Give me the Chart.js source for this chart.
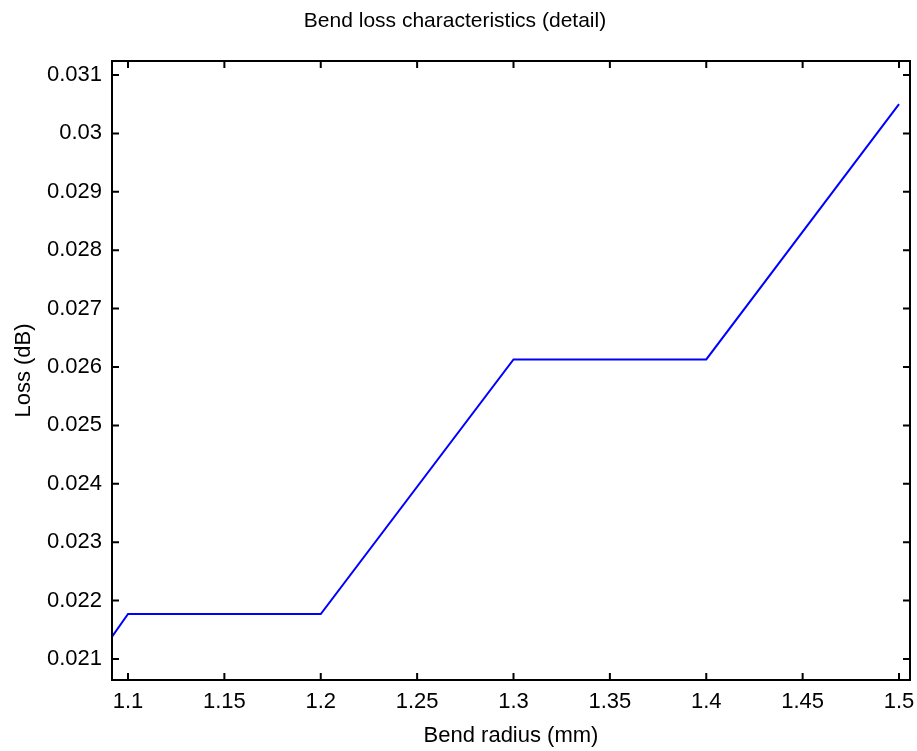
<!DOCTYPE html>
<html lang="en">
<head>
    <meta charset="UTF-8">
    <title>Bend loss characteristics (detail)</title>
    <script src="https://cdn.jsdelivr.net/npm/chart.js"></script>
    <style>
        body { margin: 0; background: #fff; }
        #lossChart { display: block; }
    </style>
</head>
<body>

<canvas id="lossChart" width="917" height="751"></canvas>

<script>
  // values
  var radius = [1.09, 1.1, 1.2, 1.3, 1.4, 1.5];
  var loss = [0.0213, 0.02177, 0.02177, 0.02613, 0.02613, 0.0305];
  var xTicks = [1.1, 1.15, 1.2, 1.25, 1.3, 1.35, 1.4, 1.45, 1.5];
  var yTicks = [0.021, 0.022, 0.023, 0.024, 0.025, 0.026, 0.027, 0.028, 0.029, 0.03, 0.031];

  var FONT = '"Liberation Sans", Arial, sans-serif';

  // box round the plot with inward ticks on all four sides
  var boxTicks = {
    id: 'boxTicks',
    afterDraw: function (chart) {
      var c = chart.ctx, a = chart.chartArea;
      var xs = chart.scales.x, ys = chart.scales.y;
      var len = 7;
      c.save();
      c.strokeStyle = '#000';
      c.lineWidth = 2;
      c.beginPath();
      xTicks.forEach(function (v) {
        var px = xs.getPixelForValue(v);
        c.moveTo(px, a.bottom); c.lineTo(px, a.bottom - len);
        c.moveTo(px, a.top); c.lineTo(px, a.top + len);
      });
      yTicks.forEach(function (v) {
        var py = ys.getPixelForValue(v);
        c.moveTo(a.left, py); c.lineTo(a.left + len, py);
        c.moveTo(a.right, py); c.lineTo(a.right - len, py);
      });
      c.stroke();
      c.strokeRect(a.left, a.top, a.right - a.left, a.bottom - a.top);
      c.restore();
    }
  };

  var ctx = document.getElementById('lossChart').getContext('2d');
  var lossChart = new Chart(ctx, {
    type: 'scatter',
    data: {
      datasets: [{
        data: radius.map(function (r, i) { return { x: r, y: loss[i] }; }),
        showLine: true,
        borderColor: '#0000ff',
        borderWidth: 2,
        pointRadius: 0,
        tension: 0
      }]
    },
    options: {
      responsive: false,
      animation: false,
      layout: { padding: { right: 7 } },
      plugins: {
        legend: { display: false },
        tooltip: { enabled: false },
        title: {
          display: true,
          text: 'Bend loss characteristics (detail)',
          color: '#000',
          font: { family: FONT, size: 21, weight: 'normal' },
          padding: { top: 9, bottom: 26.8 }
        }
      },
      scales: {
        x: {
          type: 'linear',
          min: 1.0917,
          max: 1.5057,
          afterBuildTicks: function (s) { s.ticks = xTicks.map(function (v) { return { value: v }; }); },
          afterFit: function (s) { s.height = 71; s.paddingLeft = 0; s.paddingRight = 0; },
          grid: { display: false, drawTicks: false },
          border: { display: false },
          ticks: {
            color: '#000',
            padding: 9,
            maxRotation: 0,
            autoSkip: false,
            font: { family: FONT, size: 22 },
            callback: function (v) { return String(v); }
          },
          title: {
            display: true,
            text: 'Bend radius (mm)',
            color: '#000',
            font: { family: FONT, size: 22 },
            padding: { top: 4, bottom: 2 }
          }
        },
        y: {
          min: 0.02064,
          max: 0.03124,
          afterBuildTicks: function (s) { s.ticks = yTicks.map(function (v) { return { value: v }; }); },
          afterFit: function (s) { s.width = 112; },
          grid: { display: false, drawTicks: false },
          border: { display: false },
          ticks: {
            color: '#000',
            padding: 10,
            autoSkip: false,
            font: { family: FONT, size: 22 },
            callback: function (v) { return String(v); }
          },
          title: {
            display: true,
            text: 'Loss (dB)',
            color: '#000',
            font: { family: FONT, size: 22 },
            padding: { top: 11, bottom: 0 }
          }
        }
      }
    },
    plugins: [boxTicks]
  });
</script>

</body>
</html>
